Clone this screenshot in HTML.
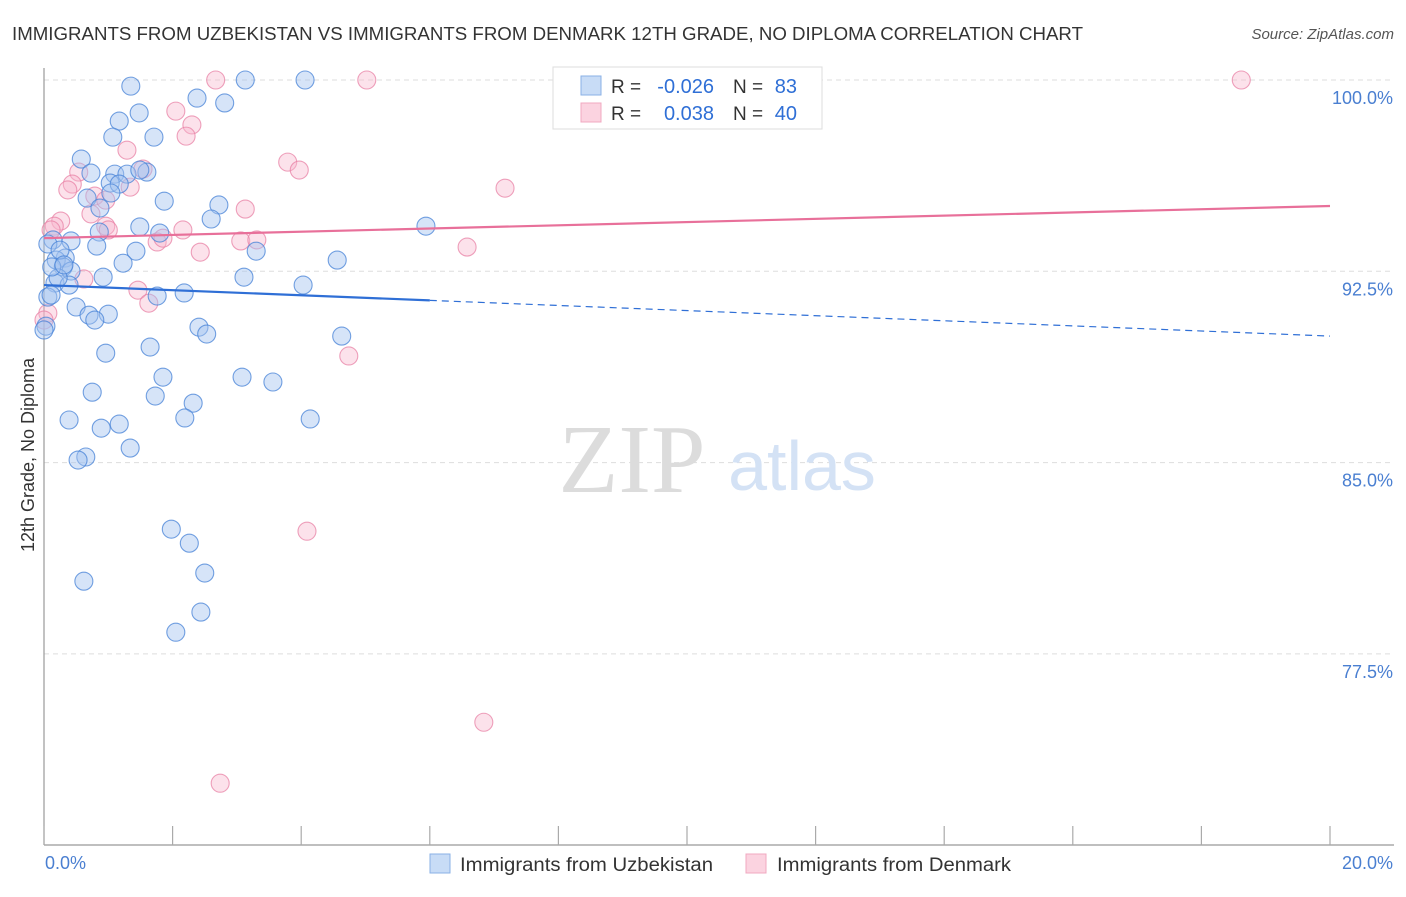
<!DOCTYPE html>
<html><head><meta charset="utf-8"><style>
body{margin:0;background:#fff;font-family:"Liberation Sans",sans-serif;}
svg text{font-family:"Liberation Sans",sans-serif;}
</style></head><body>
<svg id="chart" width="1406" height="892" viewBox="0 0 1406 892" xmlns="http://www.w3.org/2000/svg">
<text x="12" y="40" font-size="18" fill="#333" textLength="1071" lengthAdjust="spacingAndGlyphs">IMMIGRANTS FROM UZBEKISTAN VS IMMIGRANTS FROM DENMARK 12TH GRADE, NO DIPLOMA CORRELATION CHART</text>
<text x="1394" y="39" font-size="15" font-style="italic" fill="#555" text-anchor="end">Source: ZipAtlas.com</text>
<g id="grid"></g>
<g id="yticks"></g>
<text x="632" y="492" font-size="98" fill="#dcdcdc" text-anchor="middle" style="font-family:'Liberation Serif',serif">ZIP</text>
<text x="802" y="490" font-size="70" fill="#d4e2f5" text-anchor="middle">atlas</text>
<line x1="44" y1="68" x2="44" y2="845" stroke="#999" stroke-width="1.2"/>
<line x1="44" y1="845" x2="1394" y2="845" stroke="#999" stroke-width="1.2"/>
<g id="xticks"></g>
<text x="45" y="869" font-size="18" fill="#4a7fd1">0.0%</text>
<text x="1393" y="869" font-size="18" fill="#4a7fd1" text-anchor="end">20.0%</text>
<text transform="translate(34,455) rotate(-90)" font-size="18" fill="#333" text-anchor="middle">12th Grade, No Diploma</text>
<g id="points"></g>
<g id="trends"></g>
<g>
<rect x="553" y="67" width="269" height="62" fill="#fff" stroke="#ddd"/>
<rect x="581" y="76" width="20" height="19" fill="rgba(164,196,240,0.6)" stroke="#8ab0e6"/>
<rect x="581" y="103" width="20" height="19" fill="rgba(248,182,204,0.6)" stroke="#f0a8c0"/>
<text x="611" y="93" font-size="19" fill="#333">R =</text>
<text x="714" y="93" font-size="20" fill="#2f6fd6" text-anchor="end">-0.026</text>
<text x="733" y="93" font-size="19" fill="#333">N =</text>
<text x="797" y="93" font-size="20" fill="#2f6fd6" text-anchor="end">83</text>
<text x="611" y="120" font-size="19" fill="#333">R =</text>
<text x="714" y="120" font-size="20" fill="#2f6fd6" text-anchor="end">0.038</text>
<text x="733" y="120" font-size="19" fill="#333">N =</text>
<text x="797" y="120" font-size="20" fill="#2f6fd6" text-anchor="end">40</text>
</g>
<g>
<rect x="430" y="854" width="20" height="19" fill="rgba(164,196,240,0.6)" stroke="#8ab0e6"/>
<text x="460" y="871" font-size="19" fill="#333" textLength="253" lengthAdjust="spacingAndGlyphs">Immigrants from Uzbekistan</text>
<rect x="746" y="854" width="20" height="19" fill="rgba(248,182,204,0.6)" stroke="#f0a8c0"/>
<text x="777" y="871" font-size="19" fill="#333" textLength="234" lengthAdjust="spacingAndGlyphs">Immigrants from Denmark</text>
</g>
</svg>
<script>
const blueX=[1.35,3.13,4.06,2.38,2.81,1.48,1.17,1.07,1.71,0.58,0.73,1.60,1.10,1.29,1.49,1.03,1.17,1.04,0.67,1.87,2.72,0.87,2.60,1.49,5.94,0.86,1.80,0.14,0.42,0.82,1.43,3.30,0.33,0.19,1.23,4.56,0.30,0.42,0.92,3.11,0.17,0.39,4.03,2.18,1.76,0.06,0.11,0.50,0.70,1.00,0.79,2.41,2.53,4.63,0.96,1.65,0.03,1.85,3.08,3.56,0.75,1.73,2.32,0.39,2.19,4.14,0.89,1.17,1.34,0.65,0.53,1.98,2.26,2.50,0.62,2.44,2.05,0.06,0.22,0.12,0.00,0.25,0.31];
const blueY=[99.76,100,100,99.29,99.10,98.71,98.39,97.76,97.76,96.90,96.35,96.39,96.31,96.31,96.47,95.96,95.92,95.57,95.37,95.25,95.10,94.98,94.55,94.24,94.27,94.04,94.00,93.73,93.69,93.49,93.29,93.29,93.02,92.94,92.82,92.94,92.67,92.51,92.27,92.27,92.04,91.96,91.96,91.65,91.53,91.49,91.57,91.10,90.78,90.82,90.59,90.31,90.04,89.96,89.29,89.53,90.35,88.35,88.35,88.16,87.76,87.61,87.33,86.67,86.75,86.71,86.35,86.51,85.57,85.22,85.10,82.39,81.84,80.67,80.35,79.14,78.35,93.57,92.24,92.67,90.20,93.33,92.75];
const pinkX=[2.67,5.02,18.62,2.05,2.30,2.21,1.29,3.79,3.97,1.54,1.34,0.54,0.44,0.37,0.79,7.17,0.96,0.73,3.13,0.26,0.16,0.96,2.16,1.76,3.06,3.31,2.43,6.58,0.62,1.46,1.63,0.06,0.00,4.74,4.09,6.84,2.74,1.00,0.11,1.85];
const pinkY=[100,100,100,98.78,98.24,97.80,97.25,96.78,96.47,96.51,95.80,96.39,95.92,95.69,95.45,95.76,95.29,94.75,94.94,94.47,94.27,94.27,94.12,93.65,93.69,93.73,93.25,93.45,92.20,91.76,91.25,90.86,90.59,89.18,82.31,74.82,72.43,94.12,94.12,93.80];
const blueTrend=[91.96,89.96];
const pinkTrend=[93.80,95.06];
const yTicks=[100,92.5,85,77.5];
const yTickLabels=["100.0%","92.5%","85.0%","77.5%"];
const xTicks=[0,2,4,6,8,10,12,14,16,18,20];
const NS="http://www.w3.org/2000/svg";
function sx(v){return 44+v*(1286/20);}
function sy(v){return 80+(100-v)*(191.3/7.5);}
function mk(t,a,p){const e=document.createElementNS(NS,t);for(const k in a)e.setAttribute(k,a[k]);document.getElementById(p).appendChild(e);return e;}
yTicks.forEach((v,i)=>{
 const l=mk('line',{x1:44,x2:1394,y1:sy(v),y2:sy(v),stroke:'#ddd','stroke-dasharray':'5,4'},'grid');
 
 
 const t=mk('text',{x:1393,y:sy(v)+24,'font-size':18,fill:'#4a7fd1','text-anchor':'end'},'yticks');
 t.textContent=yTickLabels[i];
 
 
});
xTicks.forEach(v=>{
 const l=mk('line',{x1:sx(v),x2:sx(v),y1:826,y2:845,stroke:'#aaa','stroke-width':1.2},'xticks');
 
 
});
function pts(X,Y,fill,stroke,name){
 X.forEach((x,i)=>{
  const c=mk('circle',{cx:sx(x),cy:sy(Y[i]),r:9,fill:fill,stroke:stroke,'stroke-width':1.1},'points');
  
  
 });
}
pts(pinkX,pinkY,'rgba(248,182,204,0.4)','rgba(232,130,165,0.75)','point-denmark');
pts(blueX,blueY,'rgba(164,196,240,0.45)','rgba(70,130,215,0.75)','point-uzbekistan');
const bMid=blueTrend[0]+(blueTrend[1]-blueTrend[0])*(6/20);
let l1=mk('line',{x1:sx(0),y1:sy(blueTrend[0]),x2:sx(6),y2:sy(bMid),stroke:'#2f6fd6','stroke-width':2.2},'trends');


let l2=mk('line',{x1:sx(6),y1:sy(bMid),x2:sx(20),y2:sy(blueTrend[1]),stroke:'#2f6fd6','stroke-width':1.2,'stroke-dasharray':'7,5'},'trends');


let l3=mk('line',{x1:sx(0),y1:sy(pinkTrend[0]),x2:sx(20),y2:sy(pinkTrend[1]),stroke:'#e8709a','stroke-width':2.2},'trends');


</script>
</body></html>
